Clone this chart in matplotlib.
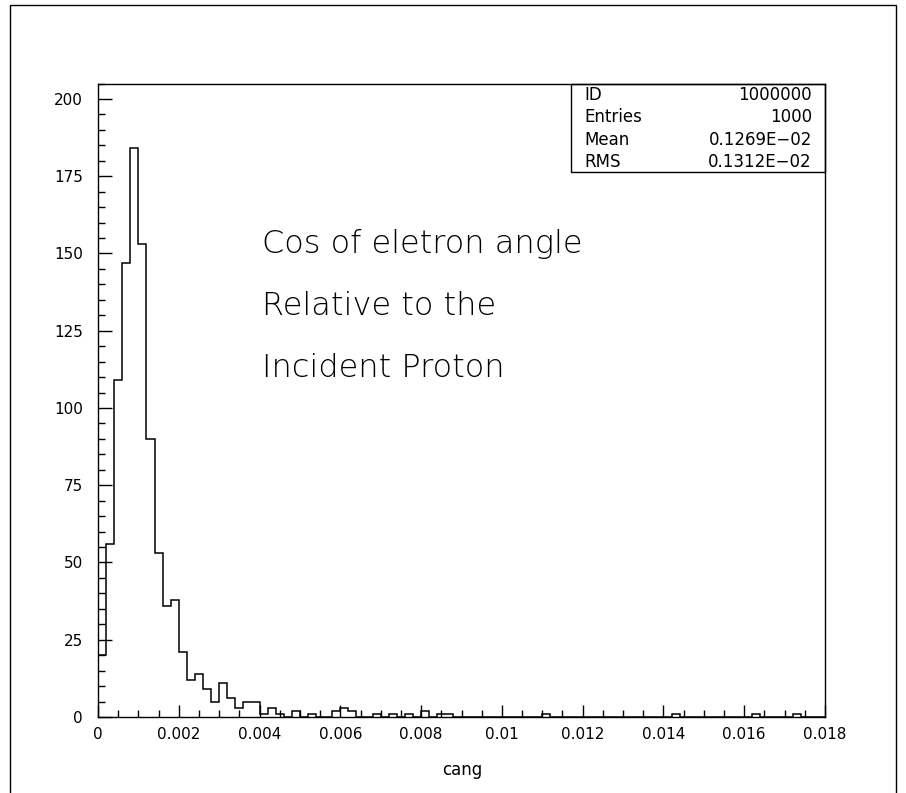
import numpy as np
import matplotlib
matplotlib.use("Agg")
import matplotlib.pyplot as plt
from matplotlib.patches import Rectangle
from matplotlib.ticker import MultipleLocator

# histogram binning: 90 bins between 0 and 0.018
x_min = 0.0
x_max = 0.018
n_bins = 90

# bin contents
counts = [20, 56, 109, 147, 184, 153, 90, 53, 36, 38,
          21, 12, 14, 9, 5, 11, 6, 3, 5, 5,
          1, 3, 1, 0, 2, 0, 1, 0, 0, 2,
          3, 2, 0, 0, 1, 0, 1, 0, 1, 0,
          2, 0, 1, 1, 0, 0, 0, 0, 0, 0,
          0, 0, 0, 0, 0, 1, 0, 0, 0, 0,
          0, 0, 0, 0, 0, 0, 0, 0, 0, 0,
          0, 1, 0, 0, 0, 0, 0, 0, 0, 0,
          0, 1, 0, 0, 0, 0, 1, 0, 0, 0]

xticks = [0, 0.002, 0.004, 0.006, 0.008, 0.01, 0.012, 0.014, 0.016, 0.018]
xtick_labels = ["0", "0.002", "0.004", "0.006", "0.008", "0.01", "0.012", "0.014", "0.016", "0.018"]
yticks = [0, 25, 50, 75, 100, 125, 150, 175, 200]

stat_names = ["ID", "Entries", "Mean", "RMS"]
stat_values = ["1000000", "1000", "0.1269E\u221202", "0.1312E\u221202"]

notes = ["Cos of eletron angle", "Relative to the", "Incident Proton"]

fig = plt.figure(figsize=(9.06, 7.93), dpi=100)
ax = fig.add_axes([98 / 906, 1 - 717 / 793, 727 / 906, 633.5 / 793])

edges = np.linspace(x_min, x_max, n_bins + 1)
ax.stairs(counts, edges, color="black", linewidth=1.1, baseline=0)

ax.set_xlim(x_min, x_max)
ax.set_ylim(0, 205)

ax.set_xticks(xticks)
ax.set_xticklabels(xtick_labels)
ax.set_yticks(yticks)
ax.xaxis.set_minor_locator(MultipleLocator(0.0005))
ax.yaxis.set_minor_locator(MultipleLocator(5))
ax.tick_params(axis="both", which="both", direction="in", top=False, right=False,
               width=1, color="black")
ax.tick_params(axis="x", which="major", length=9, pad=7, labelsize=11)
ax.tick_params(axis="x", which="minor", length=5)
ax.tick_params(axis="y", which="major", length=10, pad=11, labelsize=11)
ax.tick_params(axis="y", which="minor", length=5)
for s in ax.spines.values():
    s.set_linewidth(1)

# statistics box
ax.add_patch(Rectangle((0.650, 0.860), 0.350, 0.140, transform=ax.transAxes,
                       fill=False, edgecolor="black", linewidth=1, clip_on=False))
rows_y = [0.982, 0.947, 0.911, 0.876]
for name, val, yy in zip(stat_names, stat_values, rows_y):
    ax.text(0.669, yy, name, transform=ax.transAxes, ha="left", va="center", fontsize=12)
    ax.text(0.982, yy, val, transform=ax.transAxes, ha="right", va="center", fontsize=12)

for txt, yy in zip(notes, [0.747, 0.649, 0.551]):
    ax.text(0.225, yy, txt, transform=ax.transAxes, ha="left", va="center",
            fontsize=23, fontweight=200)

fig.text(462 / 906, 1 - 770 / 793, "cang", ha="center", va="center", fontsize=12)

# outer page frame
fig.add_artist(Rectangle((0.011, -0.05), 0.978, 1.0437, transform=fig.transFigure,
                         fill=False, edgecolor="black", linewidth=1))

fig.savefig("out.png", dpi=100)
